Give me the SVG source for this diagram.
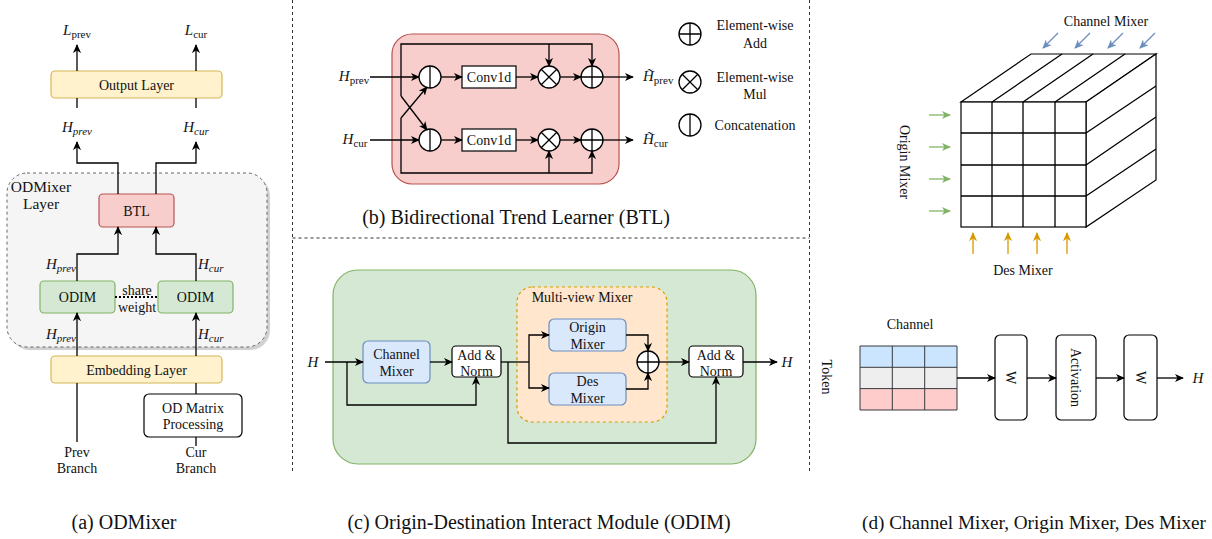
<svg xmlns="http://www.w3.org/2000/svg" width="1212" height="539" viewBox="0 0 1212 539">
<defs>
<style>
text{font-family:"Liberation Serif","Times New Roman",serif;fill:#111;}
.t{font-size:14px;}
.cap{font-size:20px;}
.m{font-size:15px;font-style:italic;}
.sub{font-size:11px;}
.ln{fill:none;stroke:#000;stroke-width:1.3;}
.arr{fill:none;stroke:#000;stroke-width:1.3;marker-end:url(#ah);}
.yel{fill:#fff2cc;stroke:#d6b656;stroke-width:1.2;}
.red{fill:#f8cecc;stroke:#b85450;stroke-width:1.2;}
.grn{fill:#d5e8d4;stroke:#82b366;stroke-width:1.2;}
.blu{fill:#dae8fc;stroke:#6c8ebf;stroke-width:1.2;}
.wht{fill:#fff;stroke:#000;stroke-width:1.2;}
.circ{fill:#fff;stroke:#000;stroke-width:1.3;}
.div{fill:none;stroke:#333;stroke-width:1;stroke-dasharray:3 3;}
.cube{fill:#fff;stroke:#000;stroke-width:1.2;}
</style>
<marker id="ah" viewBox="0 0 10 10" refX="9" refY="5" markerWidth="9" markerHeight="9" markerUnits="userSpaceOnUse" orient="auto"><path d="M0,0.5 L10,5 L0,9.5 L2.8,5 z" fill="#000"/></marker>
<marker id="ahB" viewBox="0 0 10 10" refX="9" refY="5" markerWidth="9" markerHeight="9" markerUnits="userSpaceOnUse" orient="auto"><path d="M0,0.5 L10,5 L0,9.5 L2.8,5 z" fill="#6c8ebf"/></marker>
<marker id="ahG" viewBox="0 0 10 10" refX="9" refY="5" markerWidth="9" markerHeight="9" markerUnits="userSpaceOnUse" orient="auto"><path d="M0,0.5 L10,5 L0,9.5 L2.8,5 z" fill="#82b366"/></marker>
<marker id="ahO" viewBox="0 0 10 10" refX="9" refY="5" markerWidth="9" markerHeight="9" markerUnits="userSpaceOnUse" orient="auto"><path d="M0,0.5 L10,5 L0,9.5 L2.8,5 z" fill="#d79b00"/></marker>
</defs>
<rect width="1212" height="539" fill="#fff"/>

<!-- dividers -->
<g id="dividers">
<line class="div" x1="292.5" y1="0" x2="292.5" y2="474"/>
<line class="div" x1="809.5" y1="0" x2="809.5" y2="474"/>
<line class="div" x1="292.5" y1="238" x2="809.5" y2="238"/>
</g>

<!-- ===== Panel (a) ===== -->
<g id="odmixer-layer">
<rect x="10" y="176" width="260" height="174" rx="20" fill="#999" opacity="0.45"/>
<rect x="7" y="173" width="260" height="174" rx="20" fill="#f5f5f5" stroke="#666" stroke-width="1" stroke-dasharray="3 3"/>
<text x="41" y="192" text-anchor="middle" font-size="15.5">ODMixer</text>
<text x="41" y="209" text-anchor="middle" font-size="15.5">Layer</text>
</g>
<g id="output-layer"><rect class="yel" x="51" y="71" width="171" height="27" rx="4"/><text class="t" x="136.5" y="89.5" text-anchor="middle">Output Layer</text></g>
<g id="btl-node"><rect class="red" x="99" y="194" width="75" height="33" rx="4"/><text class="t" x="136.5" y="215.5" text-anchor="middle">BTL</text></g>
<g id="odim-left"><rect class="grn" x="40" y="281" width="75" height="32" rx="4"/><text class="t" x="77.5" y="302" text-anchor="middle">ODIM</text></g>
<g id="odim-right"><rect class="grn" x="158" y="281" width="75" height="32" rx="4"/><text class="t" x="195.5" y="302" text-anchor="middle">ODIM</text></g>
<g id="embedding-layer"><rect class="yel" x="51" y="356" width="171" height="27" rx="4"/><text class="t" x="136.5" y="374.5" text-anchor="middle">Embedding Layer</text></g>
<g id="od-matrix"><rect class="wht" x="144" y="394" width="98" height="43" rx="5"/><text class="t" x="193" y="412.5" text-anchor="middle">OD Matrix</text><text class="t" x="193" y="429" text-anchor="middle">Processing</text></g>
<g id="labels-a">
<text x="77" y="35" text-anchor="middle"><tspan class="m">L</tspan><tspan class="sub" dy="3">prev</tspan></text>
<text x="196" y="35" text-anchor="middle"><tspan class="m">L</tspan><tspan class="sub" dy="3">cur</tspan></text>
<text x="77" y="132" text-anchor="middle"><tspan class="m">H</tspan><tspan class="sub" font-style="italic" dy="3">prev</tspan></text>
<text x="196" y="132" text-anchor="middle"><tspan class="m">H</tspan><tspan class="sub" font-style="italic" dy="3">cur</tspan></text>
<text x="76" y="269" text-anchor="end"><tspan class="m">H</tspan><tspan class="sub" font-style="italic" dy="3">prev</tspan></text>
<text x="198" y="269"><tspan class="m">H</tspan><tspan class="sub" font-style="italic" dy="3">cur</tspan></text>
<text x="76" y="339" text-anchor="end"><tspan class="m">H</tspan><tspan class="sub" font-style="italic" dy="3">prev</tspan></text>
<text x="198" y="339"><tspan class="m">H</tspan><tspan class="sub" font-style="italic" dy="3">cur</tspan></text>
<text class="t" x="137" y="294.5" text-anchor="middle">share</text>
<text class="t" x="137" y="311.5" text-anchor="middle">weight</text>
<text class="t" x="77" y="456.5" text-anchor="middle">Prev</text>
<text class="t" x="77" y="472.5" text-anchor="middle">Branch</text>
<text class="t" x="196" y="456.5" text-anchor="middle">Cur</text>
<text class="t" x="196" y="472.5" text-anchor="middle">Branch</text>
</g>
<g id="connectors-a">
<path class="arr" d="M77,71 V45"/>
<path class="arr" d="M196,71 V45"/>
<path class="ln" d="M77,98 V108"/>
<path class="ln" d="M196,98 V108"/>
<path class="arr" d="M118,194 V163 H77 V142"/>
<path class="arr" d="M156,194 V163 H196 V142"/>
<path class="arr" d="M77,281 V254 H118 V227"/>
<path class="arr" d="M196,281 V254 H156 V227"/>
<path d="M115,297 H158" fill="none" stroke="#000" stroke-width="2" stroke-dasharray="2 2"/>
<path class="arr" d="M77,356 V313"/>
<path class="arr" d="M196,356 V313"/>
<path class="ln" d="M77,442 V383"/>
<path class="ln" d="M196,394 V383"/>
<path class="ln" d="M196,446 V437"/>
</g>
<text class="cap" x="124" y="529" text-anchor="middle">(a) ODMixer</text>

<!-- ===== Panel (b) ===== -->
<g id="btl-container"><rect class="red" x="392" y="34" width="227" height="150" rx="20"/></g>
<g id="concat-top"><circle class="circ" cx="430" cy="77" r="11"/><path class="ln" d="M430,66 V88"/></g>
<g id="concat-bot"><circle class="circ" cx="430" cy="140" r="11"/><path class="ln" d="M430,129 V151"/></g>
<g id="conv-top"><rect class="wht" x="462" y="66" width="54" height="22"/><text class="t" x="489" y="82" text-anchor="middle">Conv1d</text></g>
<g id="conv-bot"><rect class="wht" x="462" y="129" width="54" height="22"/><text class="t" x="489" y="145" text-anchor="middle">Conv1d</text></g>
<g id="mul-top"><circle class="circ" cx="549" cy="77" r="11"/><path class="ln" d="M541.2,69.2 L556.8,84.8 M556.8,69.2 L541.2,84.8"/></g>
<g id="mul-bot"><circle class="circ" cx="549" cy="140" r="11"/><path class="ln" d="M541.2,132.2 L556.8,147.8 M556.8,132.2 L541.2,147.8"/></g>
<g id="add-top"><circle class="circ" cx="592" cy="77" r="11"/><path class="ln" d="M581,77 H603 M592,66 V88"/></g>
<g id="add-bot"><circle class="circ" cx="592" cy="140" r="11"/><path class="ln" d="M581,140 H603 M592,129 V151"/></g>
<g id="legend">
<circle class="circ" cx="690" cy="34" r="11"/><path class="ln" d="M679,34 H701 M690,23 V45"/>
<text class="t" x="755" y="29.5" text-anchor="middle">Element-wise</text><text class="t" x="755" y="47.5" text-anchor="middle">Add</text>
<circle class="circ" cx="690" cy="82" r="11"/><path class="ln" d="M682.2,74.2 L697.8,89.8 M697.8,74.2 L682.2,89.8"/>
<text class="t" x="755" y="81.5" text-anchor="middle">Element-wise</text><text class="t" x="755" y="98.5" text-anchor="middle">Mul</text>
<circle class="circ" cx="690" cy="125" r="11"/><path class="ln" d="M690,114 V136"/>
<text class="t" x="755" y="130" text-anchor="middle">Concatenation</text>
</g>
<g id="labels-b">
<text x="354" y="81" text-anchor="middle"><tspan class="m">H</tspan><tspan class="sub" dy="3">prev</tspan></text>
<text x="355" y="144" text-anchor="middle"><tspan class="m">H</tspan><tspan class="sub" dy="3">cur</tspan></text>
<text x="643" y="81"><tspan class="m">H̃</tspan><tspan class="sub" dy="3">prev</tspan></text>
<text x="643" y="144"><tspan class="m">H̃</tspan><tspan class="sub" dy="3">cur</tspan></text>
</g>
<g id="connectors-b">
<path class="arr" d="M370,77 H419"/>
<path class="arr" d="M370,140 H419"/>
<path class="arr" d="M441,77 H462"/>
<path class="arr" d="M441,140 H462"/>
<path class="arr" d="M516,77 H538"/>
<path class="arr" d="M516,140 H538"/>
<path class="arr" d="M560,77 H581"/>
<path class="arr" d="M560,140 H581"/>
<path class="arr" d="M603,77 H633"/>
<path class="arr" d="M603,140 H633"/>
<path class="arr" d="M401,96 V44 H592 V66"/>
<path class="arr" d="M549,44 V66"/>
<path class="arr" d="M401,96 L427,130"/>
<path class="arr" d="M401,118 V173 H592 V151"/>
<path class="arr" d="M549,173 V151"/>
<path class="arr" d="M401,118 L427,87"/>
</g>
<text class="cap" x="516" y="224" text-anchor="middle">(b) Bidirectional Trend Learner (BTL)</text>

<!-- ===== Panel (c) ===== -->
<g id="odim-container"><rect class="grn" x="333" y="270" width="423" height="194" rx="25"/></g>
<g id="multiview"><rect x="517" y="287" width="150" height="135" rx="15" fill="#ffe6cc" stroke="#d79b00" stroke-width="1.2" stroke-dasharray="3 3"/><text class="t" x="582" y="302" text-anchor="middle">Multi-view Mixer</text></g>
<g id="channel-mixer"><rect class="blu" x="363" y="341" width="67" height="42" rx="5"/><text class="t" x="396.5" y="358.5" text-anchor="middle">Channel</text><text class="t" x="396.5" y="375.5" text-anchor="middle">Mixer</text></g>
<g id="addnorm1"><rect class="wht" x="452" y="346" width="49" height="31" rx="4"/><text class="t" x="476.5" y="359.5" text-anchor="middle">Add &amp;</text><text class="t" x="476.5" y="375.5" text-anchor="middle">Norm</text></g>
<g id="origin-mixer"><rect class="blu" x="549" y="319" width="77" height="32" rx="5"/><text class="t" x="587.5" y="331.5" text-anchor="middle">Origin</text><text class="t" x="587.5" y="348.5" text-anchor="middle">Mixer</text></g>
<g id="des-mixer"><rect class="blu" x="549" y="373" width="77" height="32" rx="5"/><text class="t" x="587.5" y="385.5" text-anchor="middle">Des</text><text class="t" x="587.5" y="402.5" text-anchor="middle">Mixer</text></g>
<g id="add-c"><circle class="circ" cx="648" cy="362" r="11"/><path class="ln" d="M637,362 H659 M648,351 V373"/></g>
<g id="addnorm2"><rect class="wht" x="689" y="346" width="54" height="31" rx="4"/><text class="t" x="716" y="359.5" text-anchor="middle">Add &amp;</text><text class="t" x="716" y="375.5" text-anchor="middle">Norm</text></g>
<g id="labels-c">
<text class="m" x="313" y="367" text-anchor="middle">H</text>
<text class="m" x="787" y="367" text-anchor="middle">H</text>
</g>
<g id="connectors-c">
<path class="arr" d="M325,362 H363"/>
<path class="arr" d="M430,362 H452"/>
<path class="arr" d="M347,362 V405 H476 V377"/>
<path class="ln" d="M501,362 H529"/>
<path class="arr" d="M529,362 V335 H549"/>
<path class="arr" d="M529,362 V388 H549"/>
<path class="arr" d="M626,335 H648 V351"/>
<path class="arr" d="M626,389 H648 V373"/>
<path class="arr" d="M659,362 H689" stroke-width="1.8"/>
<path class="arr" d="M508,362 V443 H716 V377"/>
<path class="arr" d="M743,362 H777"/>
</g>
<text class="cap" x="539" y="529" text-anchor="middle">(c) Origin-Destination Interact Module (ODIM)</text>

<!-- ===== Panel (d) ===== -->
<g id="cube">
<path class="cube" d="M961,102 L1031,54 H1156 L1086,102 Z"/>
<path class="cube" d="M1086,102 L1156,54 V180 L1086,227 Z"/>
<rect class="cube" x="961" y="102" width="125" height="125"/>
<path class="ln" stroke-width="1.2" d="M992,102 V227 M1023,102 V227 M1055,102 V227 M961,133 H1086 M961,165 H1086 M961,196 H1086"/>
<path class="ln" stroke-width="1.2" d="M992,102 L1062,54 M1023,102 L1093,54 M1055,102 L1125,54"/>
<path class="ln" stroke-width="1.2" d="M1086,133 L1156,86 M1086,165 L1156,117 M1086,196 L1156,149"/>
</g>
<g id="cube-arrows">
<path d="M1058,33 L1043,48" fill="none" stroke="#6c8ebf" stroke-width="1.3" marker-end="url(#ahB)"/>
<path d="M1090,33 L1075,48" fill="none" stroke="#6c8ebf" stroke-width="1.3" marker-end="url(#ahB)"/>
<path d="M1123,33 L1108,48" fill="none" stroke="#6c8ebf" stroke-width="1.3" marker-end="url(#ahB)"/>
<path d="M1155,33 L1140,48" fill="none" stroke="#6c8ebf" stroke-width="1.3" marker-end="url(#ahB)"/>
<path d="M929,115 H950" fill="none" stroke="#82b366" stroke-width="1.3" marker-end="url(#ahG)"/>
<path d="M929,147 H950" fill="none" stroke="#82b366" stroke-width="1.3" marker-end="url(#ahG)"/>
<path d="M929,179 H950" fill="none" stroke="#82b366" stroke-width="1.3" marker-end="url(#ahG)"/>
<path d="M929,211 H950" fill="none" stroke="#82b366" stroke-width="1.3" marker-end="url(#ahG)"/>
<path d="M973,254 V233" fill="none" stroke="#d79b00" stroke-width="1.3" marker-end="url(#ahO)"/>
<path d="M1008,254 V233" fill="none" stroke="#d79b00" stroke-width="1.3" marker-end="url(#ahO)"/>
<path d="M1037,254 V233" fill="none" stroke="#d79b00" stroke-width="1.3" marker-end="url(#ahO)"/>
<path d="M1067,254 V233" fill="none" stroke="#d79b00" stroke-width="1.3" marker-end="url(#ahO)"/>
</g>
<g id="labels-d">
<text class="t" x="1106" y="25.5" text-anchor="middle">Channel Mixer</text>
<text class="t" x="1023" y="275" text-anchor="middle">Des Mixer</text>
<text class="t" transform="translate(900,162) rotate(90)" text-anchor="middle">Origin Mixer</text>
<text class="t" x="910" y="328.5" text-anchor="middle">Channel</text>
<text class="t" transform="translate(822,377) rotate(90)" text-anchor="middle">Token</text>
</g>
<g id="token-table">
<rect x="860" y="346" width="97" height="21.3" fill="#cce5ff"/>
<rect x="860" y="367.3" width="97" height="21.3" fill="#eeeeee"/>
<rect x="860" y="388.6" width="97" height="21.4" fill="#ffcccc"/>
<path d="M860,346 H957 V410 H860 Z M892.3,346 V410 M924.7,346 V410 M860,367.3 H957 M860,388.6 H957" fill="none" stroke="#36393d" stroke-width="1"/>
</g>
<g id="w1"><rect class="wht" x="995" y="335" width="32" height="85" rx="5"/><text class="t" transform="translate(1006,377.5) rotate(90)" text-anchor="middle">W</text></g>
<g id="activation"><rect class="wht" x="1056" y="335" width="40" height="85" rx="5"/><text class="t" transform="translate(1071,377.5) rotate(90)" text-anchor="middle">Activation</text></g>
<g id="w2"><rect class="wht" x="1124" y="335" width="33" height="85" rx="5"/><text class="t" transform="translate(1135.5,377.5) rotate(90)" text-anchor="middle">W</text></g>
<g id="connectors-d">
<path class="arr" d="M957,378 H995"/>
<path class="arr" d="M1027,378 H1056"/>
<path class="arr" d="M1096,378 H1124"/>
<path class="arr" d="M1157,378 H1183" stroke-width="1.8"/>
</g>
<text class="m" x="1198" y="383" text-anchor="middle">H</text>
<text x="862" y="529" font-size="18.5" textLength="344" lengthAdjust="spacingAndGlyphs">(d) Channel Mixer, Origin Mixer, Des Mixer</text>
</svg>
